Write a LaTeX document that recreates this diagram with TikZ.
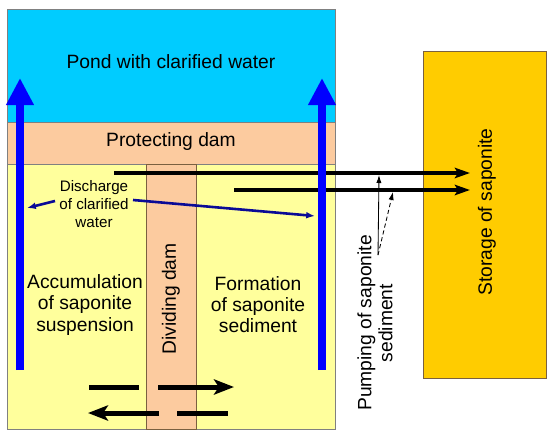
\documentclass[tikz,border=0pt]{standalone}
\usepackage{fontspec}
\setmainfont{Liberation Sans}
\usetikzlibrary{arrows.meta}

\definecolor{pondblue}{HTML}{00CCFF}
\definecolor{damorange}{HTML}{FCCB9F}
\definecolor{sandyellow}{HTML}{FFFF9C}
\definecolor{storeorange}{HTML}{FFCC00}
\definecolor{flowblue}{HTML}{0000FF}
\definecolor{darkflow}{HTML}{0A0A96}
\definecolor{edgebrown}{HTML}{7A6040}

\tikzset{
  lbl/.style={font=\fontsize{13.7}{15}\selectfont, align=center, inner sep=0pt},
  smalllbl/.style={font=\fontsize{10.8}{12.8}\selectfont, align=center, inner sep=0pt},
  riser/.style={flowblue, line width=0.2cm, -{Triangle[width=0.65cm,length=0.675cm]}},
  pumpline/.style={line width=0.1cm, -{Stealth[length=0.38cm,width=0.26cm,inset=0.08cm]}},
  turnline/.style={line width=0.125cm},
  turnhead/.style={line width=0.125cm, -{Stealth[length=0.5cm,width=0.38cm,inset=0.12cm]}},
  discharge/.style={darkflow, line width=0.065cm, -{Latex[length=0.22cm,width=0.17cm]}},
  pointer/.style={line width=0.6pt, -{Latex[length=0.2cm,width=0.13cm]}}
}

\begin{document}
\begin{tikzpicture}[x=0.025cm, y=-0.025cm]
\useasboundingbox (0,0) rectangle (550,440);

% pond, dams and sections
\draw[gray, fill=pondblue] (7,9) rectangle (335,122);
\draw[gray, fill=damorange] (7,122) rectangle (335,164);
\draw[gray, fill=sandyellow] (7,164) rectangle (335,429);
\draw[edgebrown, fill=damorange] (146,164) rectangle (196,429);
\draw[edgebrown, fill=storeorange] (423,51) rectangle (546,378);

% labels
\node[lbl] (pond) at (171,62) {Pond with clarified water};
\node[lbl] (protect) at (171,142) {Protecting dam};
\node[lbl] (accum) at (85,305) {Accumulation\\of saponite\\suspension};
\node[lbl] (form) at (258,305) {Formation\\of saponite\\sediment};
\node[lbl, rotate=90] (divide) at (171,299) {Dividing dam};
\node[lbl, rotate=90] (store) at (487,212) {Storage of saponite};
\node[lbl, rotate=90] (pump) at (375,323) {Pumping of saponite\\sediment};
\node[smalllbl] (disch) at (94,204) {Discharge\\of clarified\\water};

% pumping to storage
\coordinate (p1) at (114,173);
\coordinate (p2) at (234,190);
\coordinate (s1) at (470,173);
\coordinate (s2) at (470,190);
\draw[pumpline] (p1) -- (s1);
\draw[pumpline] (p2) -- (s2);

% pointers from pumping label
\coordinate (ptr) at (378,255);
\draw[pointer] (ptr) -- (379,175);
\draw[pointer, densely dashed] (ptr) -- (393,192);

% rising water
\draw[riser] (20,370) -- (20,78);
\draw[riser] (322,370) -- (322,78);

% discharge of clarified water
\draw[discharge] (55,201) -- (27,208);
\draw[discharge] (133,200) -- (315,216);

% flow round the dividing dam
\draw[turnline] (89,387) -- (139,387);
\draw[turnhead] (158,387) -- (234,387);
\draw[turnhead] (159,413) -- (88,413);
\draw[turnline] (177,413) -- (228,413);
\end{tikzpicture}
\end{document}
